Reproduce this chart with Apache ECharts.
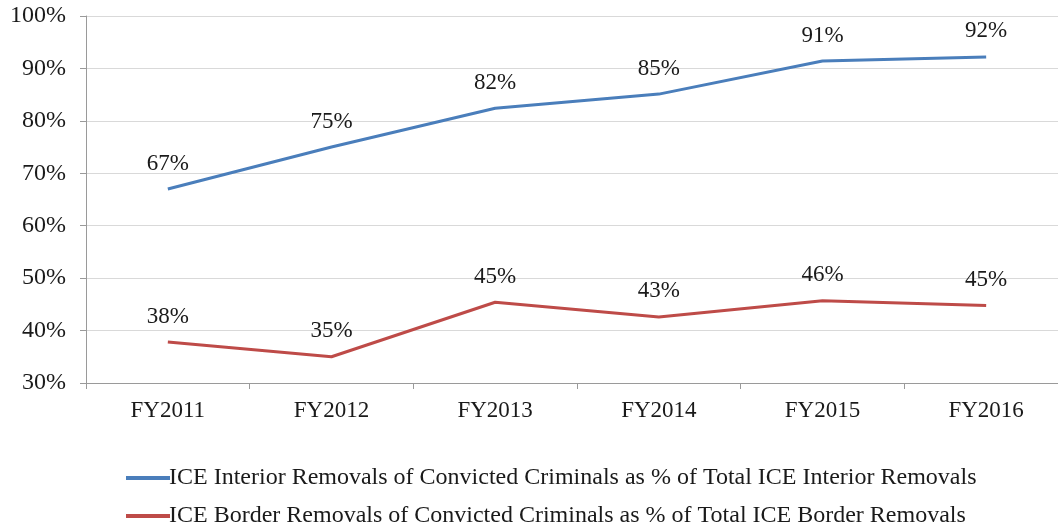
<!DOCTYPE html>
<html><head><meta charset="utf-8">
<script src="https://cdn.jsdelivr.net/npm/echarts@6/dist/echarts.min.js"></script>
<style>html,body{margin:0;padding:0;background:#fff;overflow:hidden}#c{width:1068px;height:529px}</style>
</head><body><div id="c"></div>
<script>
const categories = ['FY2011','FY2012','FY2013','FY2014','FY2015','FY2016'];
const interiorValues = [67.0, 75.0, 82.4, 85.1, 91.4, 92.2];
const borderValues = [37.8, 35.0, 45.4, 42.6, 45.7, 44.8];
const seriesNames = [
  'ICE Interior Removals of Convicted Criminals as % of Total ICE Interior Removals',
  'ICE Border Removals of Convicted Criminals as % of Total ICE Border Removals'
];
const colors = ['#4a7ebb', '#be4b48'];
const font = '"Liberation Serif","Times New Roman",serif';
const chart = echarts.init(document.getElementById('c'));
const lbl = {show:true, position:'top', distance:14, fontFamily:font, fontSize:23, color:'#1a1a1a',
  formatter: p => Math.round(p.value) + '%'};
const legendBase = {orient:'horizontal', left:121, itemWidth:44, itemHeight:4,
  textStyle:{fontFamily:font, fontSize:24, color:'#1a1a1a', padding:[0,0,0,-6]}};
chart.setOption({
  animation:false,
  grid:{left:86, right:0, top:16, bottom:146},
  legend:[
    Object.assign({}, legendBase, {top:461, data:[{name:seriesNames[0], icon:'rect', itemStyle:{color:colors[0]}}]}),
    Object.assign({}, legendBase, {top:499, data:[{name:seriesNames[1], icon:'rect', itemStyle:{color:colors[1]}}]})
  ],
  xAxis:{type:'category', data:categories, boundaryGap:true,
    axisLine:{lineStyle:{color:'#9a9a9a', width:1}},
    axisTick:{show:true, length:6, lineStyle:{color:'#9a9a9a'}},
    axisLabel:{fontFamily:font, fontSize:23, color:'#1a1a1a', margin:16}},
  yAxis:{type:'value', min:30, max:100, interval:10,
    axisLine:{show:true, lineStyle:{color:'#9a9a9a'}},
    axisTick:{show:true, length:6, lineStyle:{color:'#9a9a9a'}},
    splitLine:{lineStyle:{color:'#d9d9d9'}},
    axisLabel:{fontFamily:font, fontSize:24, color:'#1a1a1a', margin:20, formatter:'{value}%'}},
  series:[
    {name:seriesNames[0], type:'line', data:interiorValues, symbol:'circle', symbolSize:0, showSymbol:true,
      color:colors[0], itemStyle:{color:colors[0]},
      lineStyle:{width:3, color:colors[0]}, label:lbl},
    {name:seriesNames[1], type:'line', data:borderValues, symbol:'circle', symbolSize:0, showSymbol:true,
      color:colors[1], itemStyle:{color:colors[1]},
      lineStyle:{width:3, color:colors[1]}, label:lbl}
  ]
});
</script></body></html>
